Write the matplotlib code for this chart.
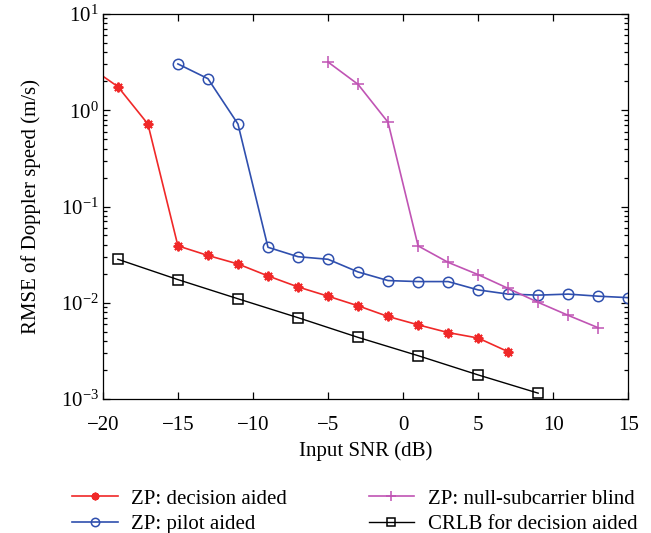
import matplotlib

matplotlib.use("Agg")
import matplotlib.pyplot as plt
from matplotlib.ticker import LogLocator, NullFormatter

plt.rcParams["font.family"] = ["Liberation Serif", "DejaVu Serif"]
plt.rcParams["mathtext.fontset"] = "stix"

# RMSE of Doppler speed vs input SNR
snr_dec = [-21, -19, -17, -15, -13, -11, -9, -7, -5, -3, -1, 1, 3, 5, 7]
rmse_dec = [2.9, 1.76, 0.72, 0.039, 0.031, 0.0253, 0.019, 0.0146, 0.0117,
            0.0093, 0.0072, 0.0059, 0.0049, 0.0043, 0.0031]

snr_pilot = [-15, -13, -11, -9, -7, -5, -3, -1, 1, 3, 5, 7, 9, 11, 13, 15]
rmse_pilot = [3.03, 2.13, 0.72, 0.0377, 0.0301, 0.0283, 0.0209, 0.0170,
              0.0166, 0.0166, 0.0136, 0.0123, 0.0120, 0.0123, 0.0117, 0.0113]

snr_blind = [-5, -3, -1, 1, 3, 5, 7, 9, 11, 13]
rmse_blind = [3.17, 1.86, 0.75, 0.039, 0.0263, 0.0196, 0.0141, 0.0101,
              0.0074, 0.0055]

snr_crlb = [-19, -15, -11, -7, -3, 1, 5, 9]
rmse_crlb = [0.0283, 0.0174, 0.0110, 0.0070, 0.00437, 0.00282, 0.00178,
             0.00115]

RED = "#f02828"
BLUE = "#2f4fae"
MAGENTA = "#c054b4"
BLACK = "#000000"
FS = 15

fig = plt.figure(figsize=(6.51, 5.33), dpi=100)
ax = fig.add_axes([0.158, 0.2514, 0.807, 0.7223])

ax.plot(snr_dec, rmse_dec, color=RED, lw=1.2, marker=(8, 2, 0), ms=7,
        mew=1.4, label="ZP: decision aided")
ax.plot(snr_pilot, rmse_pilot, color=BLUE, lw=1.2, marker="o", ms=7.5,
        mfc="none", mew=1.1, label="ZP: pilot aided")
ax.plot(snr_blind, rmse_blind, color=MAGENTA, lw=1.2, marker="+", ms=9,
        mew=1.1, label="ZP: null-subcarrier blind")
ax.plot(snr_crlb, rmse_crlb, color=BLACK, lw=1.0, marker="s", ms=7.5,
        mfc="none", mew=1.1, label="CRLB for decision aided")

ax.set_yscale("log")
ax.set_xlim(-20, 15)
ax.set_ylim(1e-3, 1e1)
ax.set_xticks(range(-20, 16, 5))
ax.set_xticklabels(["\u221220", "\u221215", "\u221210", "\u22125", "0", "5",
                    "10", "15"])
ax.yaxis.set_major_locator(LogLocator(base=10, numticks=10))
ax.yaxis.set_minor_locator(LogLocator(base=10, subs=range(2, 10), numticks=10))
ax.yaxis.set_minor_formatter(NullFormatter())

ax.tick_params(which="both", direction="in", top=True, right=True,
               labelsize=FS, width=0.9)
ax.tick_params(which="major", length=5)
ax.tick_params(which="minor", length=3)
ax.tick_params(axis="x", pad=12)
ax.tick_params(axis="y", pad=3)
for s in ax.spines.values():
    s.set_linewidth(0.9)

ax.set_xlabel("Input SNR (dB)", fontsize=FS, labelpad=5)
ax.set_ylabel("RMSE of Doppler speed (m/s)", fontsize=FS, labelpad=14)

fig.legend(loc="center", bbox_to_anchor=(0.545, 0.040), ncol=2,
           frameon=False, fontsize=FS, handlelength=2.2, handletextpad=0.65,
           columnspacing=3.9, labelspacing=0.3, markerscale=0.8,
           borderpad=0.2)

fig.savefig("out.png", dpi=100)
